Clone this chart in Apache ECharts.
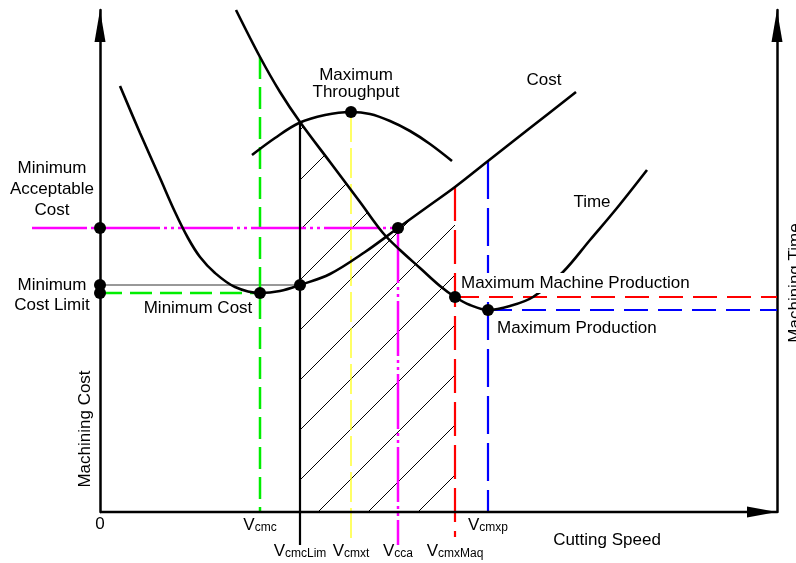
<!DOCTYPE html>
<html><head><meta charset="utf-8">
<script src="https://cdn.jsdelivr.net/npm/echarts@6/dist/echarts.min.js"></script>
<style>html,body{margin:0;padding:0;background:#fff}#c{width:796px;height:563px}</style>
</head><body><div id="c"></div>
<script>
// ---- data (arbitrary units) ----
const costCurve = [[20,426],[40,379],[60,334],[75,300],[88,274],[100,255],[115,239],[135,225],[160,219],[180,221],[200,227],[230,238],[265,260],[298,284],[330,307],[355,325],[388,351],[430,384],[476,420]];
const timeCurve = [[136,502],[160,455],[180,420],[200,390],[230,350],[260,310],[283,279],[300,262],[320,244],[340,226],[355,215],[370,207],[388,202],[410,206],[433,215],[463,240],[490,272],[517,304],[547,342]];
const throughputCurve = [[152,357],[175,374],[199,389],[225,397],[251,400],[270,398],[290,391],[310,381],[330,368],[352,351]];
const speedNames = ['cmc','cmcLim','cmxt','cca','cmxMaq','cmxp'];
const speedValues = [160, 200, 251, 298, 355, 388];
const keyPointX = [0, 0, 0, 160, 200, 251, 298, 355, 388];
const keyPointY = [284, 227, 219, 219, 227, 400, 284, 215, 202];
const xMin = -70, xMax = 677, yMax = 502;

// ---- helpers ----
const at = (curve, x) => curve.find(p => p[0] === x)[1];
const [Vcmc, VcmcLim, Vcmxt, Vcca, VcmxMaq, Vcmxp] = speedValues;
const minCost = keyPointY[2], minCostLimit = keyPointY[1], minAccCost = keyPointY[0];
const maxThroughput = keyPointY[5], maxMachProd = keyPointY[7], maxProd = keyPointY[8];
const below = -33, belowRed = -25, left = -68;

// hatched region: below upper envelope of time / cost between VcmcLim and VcmxMaq
const hatchTop = timeCurve.filter(p => p[0] >= VcmcLim && p[0] <= 283)
  .concat(costCurve.filter(p => p[0] >= Vcca && p[0] <= VcmxMaq));

const pc = document.createElement('canvas'); pc.width = 50; pc.height = 50;
const g = pc.getContext('2d'); g.strokeStyle = '#000'; g.lineWidth = 1;
g.beginPath(); g.moveTo(0,30); g.lineTo(30,0); g.moveTo(0,80); g.lineTo(80,0); g.stroke();

const FONT = '"Liberation Sans", Arial, Helvetica, sans-serif';
const TXT = '#000';

function guide(data, color, width, type) {
  return { type: 'line', data, symbol: 'none', clip: false, z: 3, silent: true,
    lineStyle: { color, width, type } };
}
function curve(data) {
  return { type: 'line', data, symbol: 'none', smooth: 0.35, clip: false, z: 4, silent: true,
    lineStyle: { color: '#000', width: 2.6 } };
}

const annotations = [
  { value: [0, minAccCost], text: 'Minimum\nAcceptable\nCost', offset: [-48, -39], lh: 21 },
  { value: [0, minCostLimit], text: 'Minimum\nCost Limit', offset: [-48, 10], lh: 20 },
  { value: [Vcmc, minCost], text: 'Minimum Cost', offset: [-62, 15] },
  { value: [Vcmxt, maxThroughput], text: 'Maximum\nThroughput', offset: [5, -28], lh: 17 },
  { value: costCurve[costCurve.length - 1], text: 'Cost', offset: [-32, -12] },
  { value: timeCurve[timeCurve.length - 1], text: 'Time', offset: [-55, 32] },
  { value: [VcmxMaq, maxMachProd], text: 'Maximum Machine Production', offset: [6, -14], align: 'left', bg: true },
  { value: [Vcmxp, maxProd], text: 'Maximum Production', offset: [9, 18], align: 'left' },
  { value: [0, 0], text: 'Machining Cost', offset: [83, -15], rotate: 90 },
  { value: [xMax, 0], text: 'Machining Time', offset: [229, 18], rotate: 90 },
  { value: [xMax, 0], text: 'Cutting Speed', offset: [-170, 28] },
  { value: [0, 0], text: '0', offset: [0, 12] }
];
const rows = [0, 1, 1, 1, 1, 0];
const noAxisBits = { axisLabel: { show: false }, axisTick: { show: false }, splitLine: { show: false } };
const arrowLine = { show: true, lineStyle: { color: '#000', width: 2.5 }, symbol: ['none', 'triangle'], symbolSize: [11, 32], symbolOffset: [0, -16] };

const option = {
  animation: false,
  backgroundColor: '#fff',
  grid: { left: 30, right: 19, top: 10, bottom: 51 },
  xAxis: Object.assign({ type: 'value', min: xMin, max: xMax, axisLine: { show: false } }, noAxisBits),
  yAxis: [
    Object.assign({ type: 'value', min: 0, max: yMax, axisLine: Object.assign({ onZero: true }, arrowLine) }, noAxisBits),
    Object.assign({ type: 'value', min: 0, max: yMax, position: 'right', axisLine: Object.assign({ onZero: false }, arrowLine) }, noAxisBits)
  ],
  series: [
    { type: 'line', data: hatchTop, symbol: 'none', z: 1, silent: true, lineStyle: { width: 0 },
      areaStyle: { color: { image: pc, repeat: 'repeat' }, opacity: 1 } },
    // x axis (cutting speed) with arrow head
    { type: 'line', z: 5, silent: true, clip: false, lineStyle: { color: '#000', width: 2.5 }, itemStyle: { color: '#000', opacity: 1 },
      data: [{ value: [0, 0], symbol: 'none' },
             { value: [xMax, 0], symbol: 'triangle', symbolSize: [11, 30], symbolRotate: -90, symbolOffset: [-15, 0] }] },
    // guides
    guide([[0, minCostLimit], [VcmcLim, minCostLimit]], '#333', 1, 'solid'),
    guide([[Vcmc, at(timeCurve, Vcmc)], [Vcmc, 0]], '#00ee00', 2.5, [22, 8]),
    guide([[0, minCost], [Vcmc, minCost]], '#00ee00', 2.5, [22, 8]),
    guide([[Vcmxt, maxThroughput], [Vcmxt, below + 2]], '#ffff00', 1.2, [30, 6]),
    guide([[left, minAccCost], [Vcca, minAccCost]], '#ff00ff', 2.5, [55, 4, 3, 4, 3, 4]),
    guide([[Vcca, minAccCost], [Vcca, below]], '#ff00ff', 2.5, [55, 4, 3, 4, 3, 4]),
    guide([[VcmxMaq, at(costCurve, VcmxMaq)], [VcmxMaq, belowRed]], '#ff0000', 2.2, [34, 9]),
    guide([[VcmxMaq, maxMachProd], [xMax, maxMachProd]], '#ff0000', 2.2, [24, 10]),
    guide([[Vcmxp, at(costCurve, Vcmxp)], [Vcmxp, 0]], '#0000ff', 2.2, [38, 9]),
    guide([[Vcmxp, maxProd], [xMax, maxProd]], '#0000ff', 2.2, [24, 10]),
    guide([[VcmcLim, at(timeCurve, VcmcLim)], [VcmcLim, below]], '#000', 2.2, 'solid'),
    // curves
    curve(costCurve), curve(timeCurve), curve(throughputCurve),
    // key points
    { type: 'scatter', z: 6, symbolSize: 12, clip: false, silent: true, itemStyle: { color: '#000', opacity: 1 },
      data: keyPointX.map((x, i) => [x, keyPointY[i]]) },
    // speed tick labels
    { type: 'scatter', z: 8, symbolSize: 1, clip: false, silent: true, itemStyle: { color: 'rgba(0,0,0,0)', opacity: 1 },
      data: speedValues.map((v, i) => ({ value: [v, 0],
        label: { show: true, position: 'inside', offset: [0, rows[i] ? 39 : 13], formatter: '{v|V}{s|' + speedNames[i] + '}',
          rich: { v: { fontSize: 17, fontFamily: FONT, color: TXT, verticalAlign: 'bottom', lineHeight: 18 },
                  s: { fontSize: 12, fontFamily: FONT, color: TXT, verticalAlign: 'bottom', lineHeight: 16 } } } })) },
    // annotations
    { type: 'scatter', z: 9, symbolSize: 1, clip: false, silent: true, itemStyle: { color: 'rgba(0,0,0,0)', opacity: 1 },
      data: annotations.map(a => ({ value: a.value,
        label: { show: true, position: 'inside', offset: a.offset, formatter: a.text, rotate: a.rotate || 0,
          align: a.align || 'center', fontSize: 17, fontFamily: FONT, color: TXT, lineHeight: a.lh || 18,
          backgroundColor: a.bg ? '#fff' : 'transparent', padding: a.bg ? [1, 0, 1, 0] : 0 } })) }
  ]
};
const chart = echarts.init(document.getElementById('c'), null, { renderer: 'canvas' });
chart.setOption(option);
</script></body></html>
